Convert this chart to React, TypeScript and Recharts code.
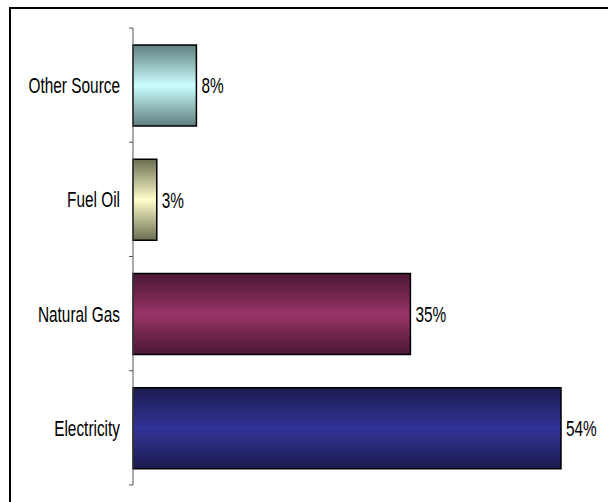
import { BarChart, Bar, XAxis, YAxis, Cell, LabelList } from 'recharts'

const sources = ['Other Source', 'Fuel Oil', 'Natural Gas', 'Electricity']
const shares = [8, 3, 35, 54]
// [edge, middle] colours of the shaded bars
const shades = [
  ['#5e7e7e', '#ccffff'],
  ['#6c6c52', '#ffffcc'],
  ['#4a1834', '#993366'],
  ['#1b1b4e', '#333399'],
]

const data = sources.map((name, i) => ({ name, share: shares[i] }))

const FONT = '"Liberation Sans", Arial, sans-serif'
const SQUEEZE = 0.7

function NarrowText({ x, y, anchor, children }: any) {
  return (
    <text
      transform={`translate(${x},${y}) scale(${SQUEEZE},1)`}
      dy="0.36em"
      textAnchor={anchor}
      fontFamily={FONT}
      fontSize={22}
      fill="#000"
    >
      {children}
    </text>
  )
}

// Excel style: tick marks sit between the categories, not at their centres
function BoundaryTick(props: any) {
  const { x, y, payload, index, visibleTicksCount } = props
  const half = payload?.offset ?? 57
  const axisX = x + 13
  return (
    <g>
      <line x1={axisX - 4} x2={axisX} y1={y - half} y2={y - half} stroke="#555" />
      {index === visibleTicksCount - 1 && (
        <line x1={axisX - 4} x2={axisX} y1={y + half} y2={y + half} stroke="#555" />
      )}
      <NarrowText x={x} y={y} anchor="end">{payload.value}</NarrowText>
    </g>
  )
}

function ShareLabel(props: any) {
  const { x, y, width, height, value } = props
  return (
    <NarrowText x={x + width + 5} y={y + height / 2} anchor="start">
      {`${value}%`}
    </NarrowText>
  )
}

export default function App() {
  return (
    <div style={{ position: 'absolute', left: 0, top: 0, width: 608, height: 502, overflow: 'hidden', background: '#fff' }}>
      <div
        style={{
          position: 'absolute',
          left: 9,
          top: 7,
          width: 640,
          height: 540,
          borderTop: '2px solid #000',
          borderLeft: '2px solid #000',
        }}
      />
      <div style={{ position: 'absolute', left: 0, top: 0 }}>
        <BarChart
          width={608}
          height={502}
          data={data}
          layout="vertical"
          margin={{ top: 28, right: 47, bottom: 17, left: 0 }}
        >
          <defs>
            {shades.map(([edge, mid], i) => (
              <linearGradient key={i} id={`shade${i}`} x1="0" y1="0" x2="0" y2="1">
                <stop offset="0%" stopColor={edge} />
                <stop offset="50%" stopColor={mid} />
                <stop offset="100%" stopColor={edge} />
              </linearGradient>
            ))}
          </defs>
          <XAxis type="number" domain={[0, 54]} hide />
          <YAxis
            type="category"
            dataKey="name"
            width={133}
            axisLine={{ stroke: '#555' }}
            tickLine={false}
            tickSize={4}
            tickMargin={9}
            tick={<BoundaryTick />}
            interval={0}
          />
          <Bar dataKey="share" barSize={81} stroke="#000" strokeWidth={1.5} isAnimationActive={false}>
            {data.map((_, i) => (
              <Cell key={i} fill={`url(#shade${i})`} />
            ))}
            <LabelList dataKey="share" content={<ShareLabel />} />
          </Bar>
        </BarChart>
      </div>
    </div>
  )
}
